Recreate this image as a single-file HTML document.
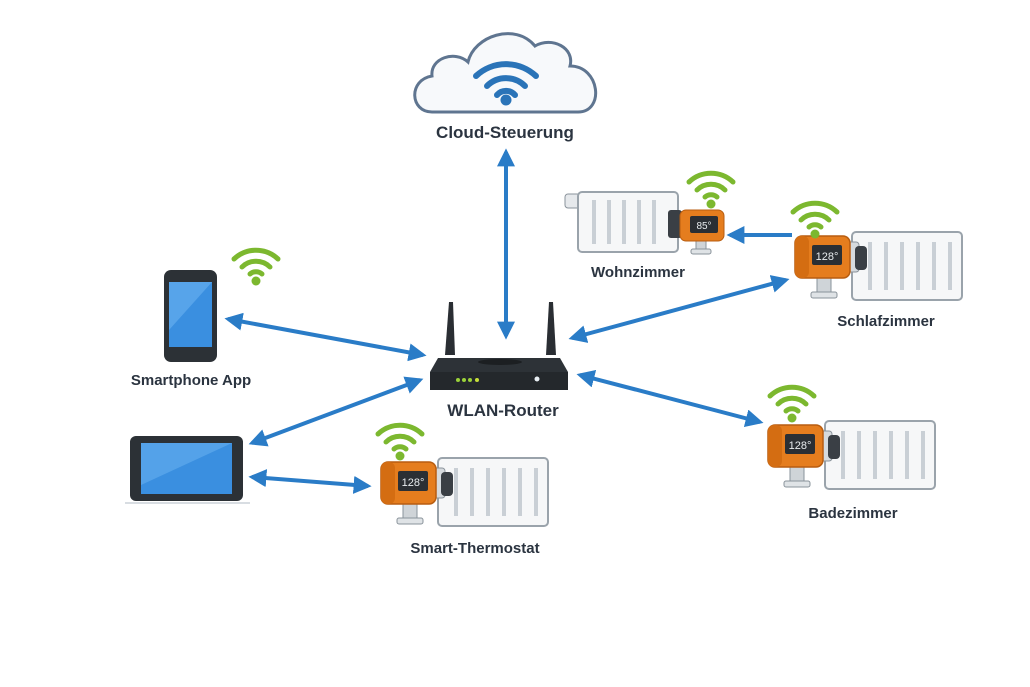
<!DOCTYPE html>
<html><head><meta charset="utf-8"><style>
html,body{margin:0;padding:0;background:#fff;}
svg{display:block;}
text{font-family:"Liberation Sans",sans-serif;font-weight:bold;fill:#2b3440;}
</style></head><body>
<svg width="1030" height="687" viewBox="0 0 1030 687" xmlns="http://www.w3.org/2000/svg">
<defs>
<marker id="ah" viewBox="0 0 10 10" refX="8" refY="5" markerWidth="4.5" markerHeight="4.5" orient="auto-start-reverse">
<path d="M0,0 L10,5 L0,10 z" fill="#2a7cc7"/></marker>
<g id="wifiG">
<path d="M-22,-6 A32,32 0 0 1 22,-6" fill="none" stroke="#7cb82f" stroke-width="5" stroke-linecap="round"/>
<path d="M-14,2 A20,20 0 0 1 14,2" fill="none" stroke="#7cb82f" stroke-width="5" stroke-linecap="round"/>
<path d="M-6,9 A9,9 0 0 1 6,9" fill="none" stroke="#7cb82f" stroke-width="5" stroke-linecap="round"/>
<circle cx="0" cy="16" r="4.5" fill="#7cb82f"/>
</g>
<g id="therm">
<rect x="57" y="-4" width="110" height="68" rx="4" fill="#f6f7f8" stroke="#9aa3ab" stroke-width="2"/>
<g stroke="#c9cfd5" stroke-width="4">
<line x1="75" y1="6" x2="75" y2="54"/><line x1="91" y1="6" x2="91" y2="54"/><line x1="107" y1="6" x2="107" y2="54"/><line x1="123" y1="6" x2="123" y2="54"/><line x1="139" y1="6" x2="139" y2="54"/><line x1="155" y1="6" x2="155" y2="54"/></g>
<rect x="50" y="6" width="14" height="30" rx="3" fill="#d6dade" stroke="#8a939b"/>
<rect x="60" y="10" width="12" height="24" rx="4" fill="#3a3f45"/>
<rect x="22" y="40" width="14" height="18" fill="#cfd4d8" stroke="#8a939b"/>
<rect x="16" y="56" width="26" height="6" rx="2" fill="#dfe3e6" stroke="#8a939b"/>
<rect x="0" y="0" width="55" height="42" rx="7" fill="#e57d1e" stroke="#b85d10" stroke-width="1.5"/>
<rect x="0" y="0" width="14" height="42" rx="6" fill="#d46d12"/>
<rect x="17" y="9" width="30" height="20" rx="2" fill="#2b2f34"/>
<text x="32" y="24" font-size="11" text-anchor="middle" style="fill:#e8ecef;font-weight:normal">128°</text>
</g>
</defs>

<!-- cloud -->
<path d="M432,112 C410,112 408,80 432,76 C430,58 455,50 468,62 C474,36 515,22 535,46 C552,36 575,48 570,66 C600,66 605,112 578,112 Z" fill="#f7f9fb" stroke="#5f7590" stroke-width="3"/>
<g transform="translate(506,78)">
<path d="M-30,-2 A44,44 0 0 1 30,-2" fill="none" stroke="#2a74b8" stroke-width="6" stroke-linecap="round"/>
<path d="M-19,8 A27,27 0 0 1 19,8" fill="none" stroke="#2a74b8" stroke-width="6" stroke-linecap="round"/>
<path d="M-9,17 A12,12 0 0 1 9,17" fill="none" stroke="#2a74b8" stroke-width="6" stroke-linecap="round"/>
<circle cx="0" cy="22" r="5.5" fill="#2a74b8"/></g>
<text x="505" y="138" font-size="17" text-anchor="middle">Cloud-Steuerung</text>

<!-- arrows -->
<g stroke="#2a7cc7" stroke-width="4" fill="none">
<line x1="506" y1="152" x2="506" y2="336" marker-start="url(#ah)" marker-end="url(#ah)"/>
<line x1="228" y1="319" x2="423" y2="355" marker-start="url(#ah)" marker-end="url(#ah)"/>
<line x1="252" y1="443" x2="420" y2="380" marker-start="url(#ah)" marker-end="url(#ah)"/>
<line x1="252" y1="477" x2="368" y2="486" marker-start="url(#ah)" marker-end="url(#ah)"/>
<line x1="572" y1="338" x2="786" y2="280" marker-start="url(#ah)" marker-end="url(#ah)"/>
<line x1="580" y1="375" x2="760" y2="422" marker-start="url(#ah)" marker-end="url(#ah)"/>
<line x1="792" y1="235" x2="730" y2="235" marker-end="url(#ah)"/>
</g>

<!-- router -->
<path d="M445,355 L449,302 L453,302 L455,355 Z" fill="#2a2e33"/>
<path d="M546,355 L549,302 L553,302 L556,355 Z" fill="#2a2e33"/>
<path d="M438,358 L560,358 L568,372 L568,390 L430,390 L430,372 Z" fill="#2d3237"/>
<ellipse cx="500" cy="362" rx="22" ry="3" fill="#1c1f22"/>
<rect x="430" y="372" width="138" height="18" fill="#24282c"/>
<circle cx="458" cy="380" r="2" fill="#9bd23a"/><circle cx="464" cy="380" r="2" fill="#9bd23a"/><circle cx="470" cy="380" r="2" fill="#9bd23a"/><circle cx="477" cy="380" r="2" fill="#c8e03a"/>
<circle cx="537" cy="379" r="2.5" fill="#e8eef3"/>
<text x="503" y="416" font-size="17" text-anchor="middle">WLAN-Router</text>

<!-- phone -->
<rect x="164" y="270" width="53" height="92" rx="7" fill="#2c3136"/>
<rect x="169" y="282" width="43" height="65" fill="#3a8fe0"/>
<path d="M169,282 L212,282 L169,330 Z" fill="#6ab3f0" opacity="0.6"/>
<text x="191" y="385" font-size="15" text-anchor="middle">Smartphone App</text>
<use href="#wifiG" x="256" y="265"/>

<!-- tablet -->
<rect x="130" y="436" width="113" height="65" rx="6" fill="#2c3136"/>
<rect x="141" y="443" width="91" height="51" fill="#3a8fe0"/>
<path d="M141,443 L232,443 L141,485 Z" fill="#6ab3f0" opacity="0.55"/>
<line x1="125" y1="503" x2="250" y2="503" stroke="#d8dde2" stroke-width="2"/>

<!-- thermostats -->
<use href="#therm" x="381" y="462"/>
<use href="#wifiG" x="400" y="440"/>
<text x="475" y="553" font-size="15" text-anchor="middle">Smart-Thermostat</text>

<use href="#therm" x="795" y="236"/>
<use href="#wifiG" x="815" y="218"/>
<text x="886" y="326" font-size="15" text-anchor="middle">Schlafzimmer</text>

<use href="#therm" x="768" y="425"/>
<use href="#wifiG" x="792" y="402"/>
<text x="853" y="518" font-size="15" text-anchor="middle">Badezimmer</text>

<!-- Wohnzimmer -->
<rect x="565" y="194" width="16" height="14" rx="3" fill="#e6e9ec" stroke="#8a939b"/>
<rect x="578" y="192" width="100" height="60" rx="4" fill="#f6f7f8" stroke="#9aa3ab" stroke-width="2"/>
<g stroke="#c9cfd5" stroke-width="4">
<line x1="594" y1="200" x2="594" y2="244"/><line x1="609" y1="200" x2="609" y2="244"/><line x1="624" y1="200" x2="624" y2="244"/><line x1="639" y1="200" x2="639" y2="244"/><line x1="654" y1="200" x2="654" y2="244"/></g>
<rect x="668" y="210" width="14" height="28" rx="3" fill="#3a3f45"/>
<rect x="696" y="240" width="10" height="10" fill="#cfd4d8" stroke="#8a939b"/>
<rect x="691" y="249" width="20" height="5" rx="2" fill="#dfe3e6" stroke="#8a939b"/>
<rect x="680" y="210" width="44" height="31" rx="6" fill="#e57d1e" stroke="#b85d10"/>
<rect x="690" y="216" width="28" height="17" rx="2" fill="#2b2f34"/>
<text x="704" y="229" font-size="10" text-anchor="middle" style="fill:#e8ecef;font-weight:normal">85°</text>
<use href="#wifiG" x="711" y="188"/>
<text x="638" y="277" font-size="15" text-anchor="middle">Wohnzimmer</text>
</svg>
</body></html>
